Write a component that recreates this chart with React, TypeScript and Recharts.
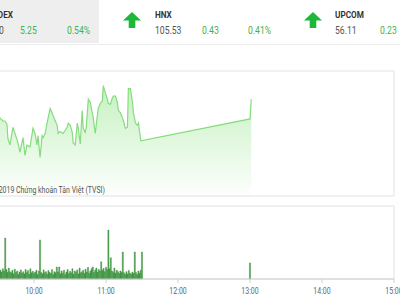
import React from 'react';
import {
  AreaChart,
  Area,
  ComposedChart,
  Bar,
  XAxis,
  YAxis,
  CartesianGrid,
  ReferenceLine,
} from 'recharts';

// minutes after 9:00
const indexTimes = [
  31.6, 34, 35.7, 37.4, 38.2, 39.9, 42.4, 46.6, 48.2, 50.8, 52.4, 54.1, 56.6, 59.1, 60.8, 62.5,
  63.3, 65, 66.7, 67.5, 69.2, 70.8, 73.4, 75, 75.9, 79.2, 80.1, 81.7, 84.2, 87.6, 88.4, 90.1,
  91.8, 92.6, 94.3, 96, 96.8, 98.5, 100.1, 101, 102.6, 103.5, 105.2, 106.8, 108.5, 109.3, 111,
  112.7, 113.5, 115.2, 116.9, 117.7, 119.4, 121.1, 121.9, 123.6, 125.2, 126.1, 127.8, 129.4,
  130.3, 131.9, 133.6, 134.5, 136.1, 137.8, 138.6, 140.3, 142, 142.8, 144.5, 146.2, 147, 149,
  240, 241,
];
const indexValues = [
  975.5, 975.2, 975.2, 974.9, 973.5, 972.9, 974.6, 973.1, 972.2, 973.6, 971.9, 972.9, 972.7, 974.5,
  974.0, 972.9, 973.8, 971.7, 973.8, 973.6, 974.0, 975.0, 976.4, 976.0, 975.7, 974.8, 974.0, 974.2,
  974.0, 974.6, 975.0, 974.8, 974.1, 973.1, 972.9, 975.0, 974.5, 973.0, 976.2, 974.5, 974.1, 974.6,
  977.3, 977.0, 976.0, 975.5, 974.0, 975.7, 976.4, 976.9, 977.1, 978.6, 977.9, 977.3, 976.9, 976.8,
  977.4, 977.6, 977.6, 977.0, 976.2, 976.0, 975.5, 975.2, 974.5, 974.6, 978.3, 978.3, 977.0, 976.0,
  975.0, 974.8, 975.0, 973.3, 975.4, 977.3,
];

// volume (thousand shares), one bar per minute from volStart, plus the 13:00 bar
const volStart = 32;
const volumes = [
  120, 95, 140, 110, 560, 130, 90, 150, 100,
  85, 120, 70, 135, 90, 110, 60, 95, 125, 80,
  100, 70, 130, 90, 115, 65, 140, 85, 105, 75,
  95, 120, 60, 110, 535, 90, 70, 125, 85, 100,
  65, 115, 90, 75, 130, 60, 100, 85, 165, 95,
  165, 70, 110, 80, 120, 60, 95, 130, 75, 105,
  85, 140, 65, 110, 90, 125, 70, 150, 85, 100,
  120, 75, 135, 95, 160, 80, 110, 140, 165, 90,
  125, 150, 95, 130, 110, 235, 120, 145, 100, 160,
  130, 670, 140, 290, 110, 90, 150, 80, 120, 100,
  75, 110, 90, 370, 85, 60, 100, 70, 115, 80,
  65, 95, 75, 370, 90, 60, 110, 80, 120, 370,
];
const afternoonVolTimes = [240];
const afternoonVolumes = [220];

const timeTicks = [60, 120, 180, 240, 300, 360];
const timeLabels = ['10:00', '11:00', '12:00', '13:00', '14:00', '15:00'];
const indexTicks = [968, 972, 976, 980];
const volTicks = [0, 500, 1000];

const indexData = indexTimes.map((t, i) => ({ t, v: indexValues[i] }));
const volData = [
  ...volumes.map((v, i) => ({ t: volStart + i, v })),
  ...afternoonVolTimes.map((t, i) => ({ t, v: afternoonVolumes[i] })),
];

const GREEN = '#3fb34a';
const FONT = 'Roboto, "Noto Sans", sans-serif';

const Txt = ({ x, y, size = 10, color = '#555', bold = false, right = false, sx = 0.86, children }: any) => (
  <div
    style={{
      position: 'absolute',
      top: y - size / 2,
      ...(right ? { right: 400 - x } : { left: x }),
      fontSize: size,
      lineHeight: 1,
      fontWeight: bold ? 700 : 400,
      color,
      whiteSpace: 'nowrap',
      transform: `scaleX(${sx})`,
      transformOrigin: right ? 'right center' : 'left center',
    }}
  >
    {children}
  </div>
);

const Arrow = ({ x, y }: { x: number; y: number }) => (
  <svg style={{ position: 'absolute', left: x, top: y }} width={18} height={16}>
    <polygon points="9,0 18,8.5 12.3,8.5 12.3,16 5.7,16 5.7,8.5 0,8.5" fill="#1db83a" />
  </svg>
);

const TimeTick = ({ x, y, payload }: any) => (
  <text
    transform={`translate(${x},${y + 9}) scale(0.82,1)`}
    textAnchor="middle"
    fontSize={8.5}
    fill="#666"
    fontFamily={FONT}
  >
    {timeLabels[timeTicks.indexOf(payload.value)]}
  </text>
);

export default function App() {
  return (
    <div
      style={{
        position: 'absolute',
        left: 0,
        top: 0,
        width: 400,
        height: 300,
        overflow: 'hidden',
        background: '#fff',
        fontFamily: FONT,
      }}
    >
      {/* header */}
      <div style={{ position: 'absolute', left: 0, top: 0, width: 99, height: 43, background: '#eeeeee' }} />
      <div style={{ position: 'absolute', left: 0, top: 44, width: 400, height: 1, background: '#ececec' }} />

      <Txt x={13} y={15} size={9.5} bold color="#333" right>VNINDEX</Txt>
      <Txt x={4} y={31} right>977.40</Txt>
      <Txt x={20} y={31} color={GREEN}>5.25</Txt>
      <Txt x={67} y={31} color={GREEN}>0.54%</Txt>

      <Arrow x={123} y={12} />
      <Txt x={155} y={15} size={9.5} bold color="#333">HNX</Txt>
      <Txt x={155} y={31}>105.53</Txt>
      <Txt x={202} y={31} color={GREEN}>0.43</Txt>
      <Txt x={248} y={31} color={GREEN}>0.41%</Txt>

      <Arrow x={304} y={12} />
      <Txt x={335} y={15} size={9.5} bold color="#333">UPCOM</Txt>
      <Txt x={335} y={31}>56.11</Txt>
      <Txt x={380} y={31} color={GREEN}>0.23</Txt>

      {/* index chart */}
      <div style={{ position: 'absolute', left: 0, top: 69 }}>
        <AreaChart width={400} height={129} data={indexData} margin={{ top: 2, right: 6, bottom: 2, left: 0 }}>
          <defs>
            <linearGradient id="idxFill" x1="0" y1="0" x2="0" y2="1">
              <stop offset="0%" stopColor="#8ee486" stopOpacity={0.85} />
              <stop offset="100%" stopColor="#8ee486" stopOpacity={0.03} />
            </linearGradient>
          </defs>
          <CartesianGrid vertical={false} stroke="#e2e2e2" />
          <XAxis dataKey="t" type="number" domain={[31.6, 360]} hide allowDataOverflow />
          <YAxis
            domain={[968, 980]}
            ticks={indexTicks}
            width={0}
            tick={false}
            axisLine={false}
            tickLine={false}
          />
          <ReferenceLine x={360} stroke="#e2e2e2" />
          <Area
            type="linear"
            dataKey="v"
            stroke="#86dc7d"
            strokeWidth={1.2}
            fill="url(#idxFill)"
            baseValue={968}
            isAnimationActive={false}
          />
        </AreaChart>
      </div>
      <Txt x={105} y={190} size={9.5} right sx={0.73}>©2019 Chứng khoán Tân Việt (TVSI)</Txt>

      {/* volume chart */}
      <div style={{ position: 'absolute', left: 0, top: 204 }}>
        <ComposedChart width={410} height={95} data={volData} margin={{ top: 2, right: 16, bottom: 0, left: 0 }}>
          <CartesianGrid vertical={false} stroke="#e2e2e2" />
          <XAxis
            dataKey="t"
            type="number"
            domain={[31.6, 360]}
            ticks={timeTicks}
            tick={<TimeTick />}
            tickSize={4}
            height={20}
            stroke="#cfcfcf"
            allowDataOverflow
          />
          <YAxis
            domain={[0, 1000]}
            ticks={volTicks}
            width={0}
            tick={false}
            axisLine={false}
            tickLine={false}
          />
          <ReferenceLine x={360} stroke="#e2e2e2" />
          <Bar dataKey="v" fill="#4aa84a" stroke="#2f7f35" strokeWidth={0.4} barSize={1.6} isAnimationActive={false} />
        </ComposedChart>
      </div>
    </div>
  );
}
